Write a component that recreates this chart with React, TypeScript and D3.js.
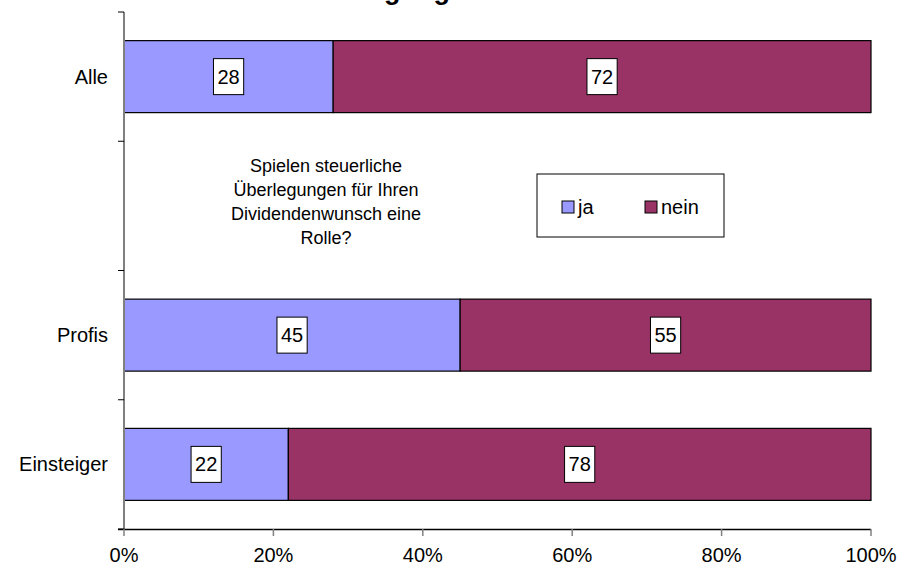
import React from "react";
import * as d3 from "d3";

const categories = ["Alle", "", "Profis", "Einsteiger"];
const jaValues: (number | null)[] = [28, null, 45, 22];
const neinValues: (number | null)[] = [72, null, 55, 78];
const seriesNames = ["ja", "nein"];
const xTicks = [0, 20, 40, 60, 80, 100];
const titleText = "Steuerliche Überlegungen";
const noteLines = [
  "Spielen steuerliche",
  "Überlegungen für Ihren",
  "Dividendenwunsch eine",
  "Rolle?",
];

const W = 904;
const H = 569;
const FONT = "'Liberation Sans', Arial, sans-serif";
const colors = ["#9999FF", "#993366"];

export default function App() {
  const x = d3.scaleLinear().domain([0, 100]).range([124, 871]);
  const keys = categories.map((c, i) => i + ":" + c);
  const y = d3.scaleBand<string>().domain(keys).range([12, 529]).padding(0);
  const bw = y.bandwidth();
  const bh = bw * 0.557;

  const rows = categories.map((c, i) => ({ c, key: keys[i], ja: jaValues[i], nein: neinValues[i] }));
  const stack = d3.stack<any>().keys(["ja", "nein"]).value((d: any, k: string) => d[k] ?? 0);
  const stacked = stack(rows);

  const boundaries = keys.map((k) => y(k) as number).concat([529]);

  return (
    <svg width={W} height={H} style={{ position: "absolute", left: 0, top: 0, background: "#fff" }} fontFamily={FONT}>
      <rect x={0} y={0} width={W} height={H} fill="#fff" />
      {/* title (cut off at top, as in the reference) */}
      <text x={147} y={-1} fontSize={27} fontWeight="bold" fill="#000">{titleText}</text>

      {/* bars */}
      {stacked.map((s, si) =>
        s.map((d, i) => {
          if (rows[i].ja == null) return null;
          const y0 = (y(keys[i]) as number) + (bw - bh) / 2;
          return (
            <rect key={si + "-" + i} x={x(d[0])} y={y0} width={x(d[1]) - x(d[0])} height={bh}
              fill={colors[si]} stroke="#000" strokeWidth={1.2} />
          );
        })
      )}

      {/* data labels */}
      {stacked.map((s, si) =>
        s.map((d, i) => {
          const v = si === 0 ? rows[i].ja : rows[i].nein;
          if (v == null) return null;
          const cx = (x(d[0]) + x(d[1])) / 2;
          const cy = (y(keys[i]) as number) + bw / 2;
          const label = String(v);
          const wBox = label.length * 11.1 + 8;
          return (
            <g key={"l" + si + "-" + i}>
              <rect x={cx - wBox / 2} y={cy - 18} width={wBox} height={36} fill="#fff" stroke="#000" strokeWidth={1} />
              <text x={cx} y={cy + 7} textAnchor="middle" fontSize={20} fill="#000">{label}</text>
            </g>
          );
        })
      )}

      {/* y axis */}
      <line x1={124} x2={124} y1={12} y2={529} stroke="#808080" strokeWidth={2} />
      {boundaries.map((b, i) => (
        <line key={"yt" + i} x1={118} x2={124} y1={b} y2={b} stroke="#000" strokeWidth={1} />
      ))}
      {categories.map((c, i) => (
        <text key={"yl" + i} x={108} y={(y(keys[i]) as number) + bw / 2 + 7} textAnchor="end" fontSize={20} fill="#000">{c}</text>
      ))}

      {/* x axis */}
      <line x1={118} x2={871} y1={529.5} y2={529.5} stroke="#000" strokeWidth={1.3} />
      {xTicks.map((t) => (
        <g key={"xt" + t}>
          <line x1={x(t)} x2={x(t)} y1={529} y2={536} stroke="#808080" strokeWidth={1.5} />
          <text x={x(t)} y={562} textAnchor="middle" fontSize={20} fill="#000">{t + "%"}</text>
        </g>
      ))}

      {/* note */}
      {noteLines.map((l, i) => (
        <text key={"n" + i} x={326} y={172 + i * 24} textAnchor="middle" fontSize={18} fill="#000">{l}</text>
      ))}

      {/* legend */}
      <rect x={537} y={174} width={187} height={63} fill="#fff" stroke="#000" strokeWidth={1} />
      {seriesNames.map((n, i) => {
        const lx = i === 0 ? 562 : 645;
        return (
          <g key={"lg" + n}>
            <rect x={lx} y={201} width={12} height={12} fill={colors[i]} stroke="#000" strokeWidth={1} />
            <text x={lx + 16} y={214} fontSize={20} fill="#000">{n}</text>
          </g>
        );
      })}
    </svg>
  );
}
